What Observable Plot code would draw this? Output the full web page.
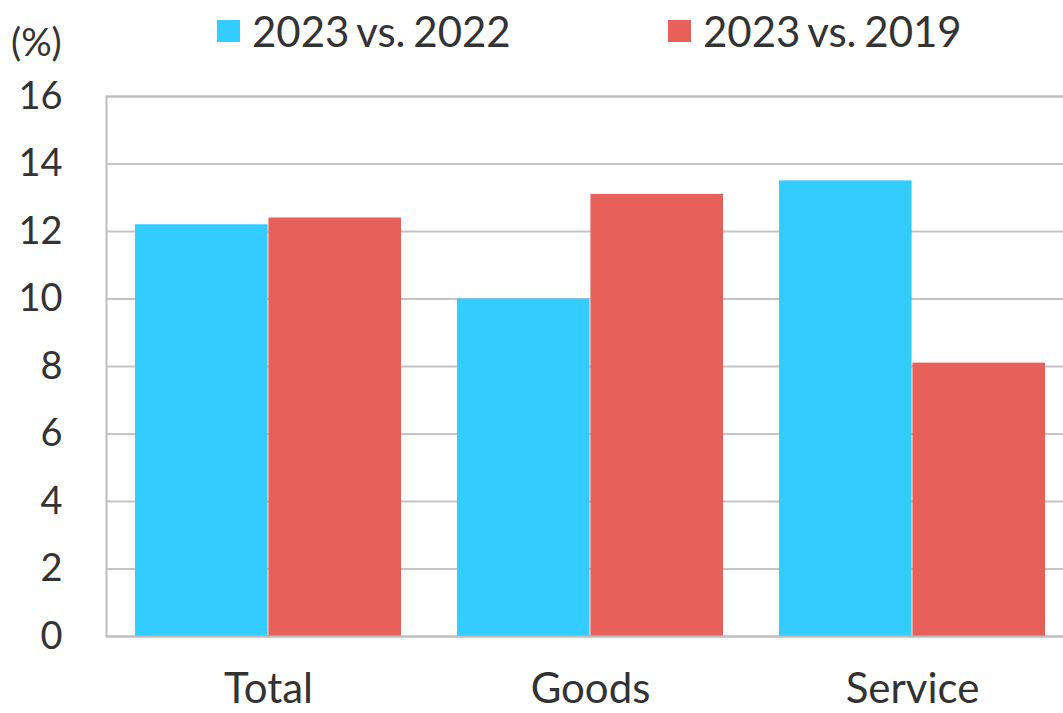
<!DOCTYPE html>
<html><head><meta charset="utf-8">
<script src="https://cdn.jsdelivr.net/npm/d3@7"></script>
<script src="https://cdn.jsdelivr.net/npm/@observablehq/plot@0.6"></script>
<style>
body{margin:0;background:#fff;font-family:Lato,sans-serif;color:#333;}
#head{position:relative;height:70px;width:1063px;}
.unit{position:absolute;left:11px;top:22px;font-size:38px;line-height:1;}
.leg{position:absolute;top:10px;font-size:42px;line-height:1;display:flex;align-items:center;white-space:nowrap;word-spacing:-3px;}
.sw{width:23px;height:22px;margin-right:12px;}
</style></head><body>
<div id="head"></div>
<div id="chart"></div>
<script>
const categories = ["Total", "Goods", "Service"];
const series = ["2023 vs. 2022", "2023 vs. 2019"];
const vs2022 = [12.2, 10.0, 13.5];
const vs2019 = [12.4, 13.1, 8.1];
const yTicks = [0, 2, 4, 6, 8, 10, 12, 14, 16];
const colors = ["#33ccff", "#e8605a"];
const unitLabel = "(%)";

const data = [];
categories.forEach((c, i) => {
  data.push({category: c, series: series[0], value: vs2022[i]});
  data.push({category: c, series: series[1], value: vs2019[i]});
});

// header: unit label + legend
const head = document.getElementById("head");
const u = document.createElement("div"); u.className = "unit"; u.textContent = unitLabel; head.appendChild(u);
const legLeft = [217, 668];
series.forEach((s, i) => {
  const d = document.createElement("div"); d.className = "leg"; d.style.left = legLeft[i] + "px";
  const sw = document.createElement("span"); sw.className = "sw"; sw.style.background = colors[i];
  const t = document.createElement("span"); t.textContent = s;
  d.appendChild(sw); d.appendChild(t); head.appendChild(d);
});

const marginLeft = 106, marginRight = -11, width = 1063;
const pIn = 0.173, pOut = 0.0865;
const step = (width - marginRight - marginLeft) / (categories.length - pIn + 2 * pOut);
const half = step * (1 - pIn) / 2;

const plot = Plot.plot({
  width, height: 643,
  marginTop: 26, marginBottom: 77, marginLeft, marginRight,
  style: {fontFamily: "Lato, sans-serif", fontSize: "38px", color: "#333", background: "#fff"},
  x: {domain: categories, paddingInner: pIn, paddingOuter: pOut, label: null, tickSize: 0, tickPadding: 37},
  y: {domain: [0, 16], ticks: yTicks, tickSize: 0, tickPadding: 44, label: null},
  color: {domain: series, range: colors},
  marks: [
    Plot.gridY(yTicks, {stroke: "#c4c4c4", strokeOpacity: 1, strokeWidth: 2}),
    Plot.barY(data.filter(d => d.series === series[0]), {x: "category", y: "value", fill: "series", insetRight: half}),
    Plot.barY(data.filter(d => d.series === series[1]), {x: "category", y: "value", fill: "series", insetLeft: half}),
    Plot.frame({stroke: "#bdbdbd", strokeWidth: 2})
  ]
});
// enlarge the category labels (x axis) relative to the value ticks
plot.querySelectorAll('[aria-label="x-axis tick label"]').forEach(g => g.setAttribute("font-size", "42px"));
document.getElementById("chart").appendChild(plot);
</script>
</body></html>
